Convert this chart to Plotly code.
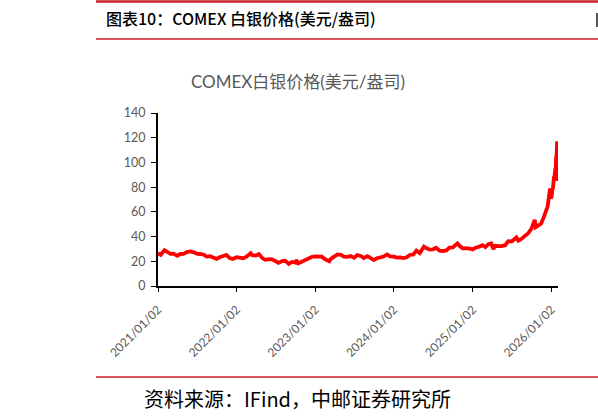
import plotly.graph_objects as go

# COMEX silver price (semi-monthly, daily at the end)
dates = [
    "2021-01-02", "2021-01-15", "2021-02-01", "2021-02-15", "2021-03-01", "2021-03-15",
    "2021-04-01", "2021-04-15", "2021-05-01", "2021-05-15", "2021-06-01", "2021-06-15",
    "2021-07-01", "2021-07-15", "2021-08-01", "2021-08-15", "2021-09-01", "2021-09-15",
    "2021-10-01", "2021-10-15", "2021-11-01", "2021-11-15", "2021-12-01", "2021-12-15",
    "2022-01-01", "2022-01-15", "2022-02-01", "2022-02-15", "2022-03-01", "2022-03-08",
    "2022-03-15", "2022-04-01", "2022-04-15", "2022-05-01", "2022-05-15", "2022-06-01",
    "2022-06-15", "2022-07-01", "2022-07-15", "2022-08-01", "2022-08-15", "2022-09-01",
    "2022-09-15", "2022-10-01", "2022-10-05", "2022-10-15", "2022-11-01", "2022-11-15",
    "2022-12-01", "2022-12-15",
    "2023-01-01", "2023-01-15", "2023-02-01", "2023-02-15", "2023-03-01", "2023-03-08",
    "2023-03-15", "2023-04-01", "2023-04-15", "2023-05-01", "2023-05-15", "2023-06-01",
    "2023-06-15", "2023-07-01", "2023-07-15", "2023-08-01", "2023-08-15", "2023-09-01",
    "2023-09-15", "2023-10-01", "2023-10-15", "2023-11-01", "2023-11-15", "2023-12-01",
    "2023-12-15",
    "2024-01-01", "2024-01-15", "2024-02-01", "2024-02-15", "2024-03-01", "2024-03-15",
    "2024-04-01", "2024-04-12", "2024-04-15", "2024-05-01", "2024-05-20", "2024-06-01",
    "2024-06-15", "2024-07-01", "2024-07-15", "2024-08-01", "2024-08-15", "2024-09-01",
    "2024-09-15", "2024-10-01", "2024-10-22", "2024-11-01", "2024-11-15", "2024-12-01",
    "2024-12-15",
    "2025-01-01", "2025-01-15", "2025-02-01", "2025-02-15", "2025-03-01", "2025-03-15",
    "2025-03-28", "2025-04-07", "2025-04-15", "2025-05-01", "2025-05-15", "2025-06-01",
    "2025-06-15", "2025-07-01", "2025-07-15", "2025-07-23", "2025-08-01", "2025-08-15",
    "2025-09-01", "2025-09-15", "2025-10-01", "2025-10-16", "2025-10-21", "2025-11-01",
    "2025-11-15", "2025-12-01", "2025-12-12", "2025-12-15", "2025-12-26", "2025-12-29",
    "2026-01-02", "2026-01-06", "2026-01-09", "2026-01-13", "2026-01-16", "2026-01-20",
    "2026-01-22", "2026-01-23", "2026-01-26", "2026-01-28", "2026-01-29", "2026-01-30",
]
prices = [
    26.5, 25.3, 29.0, 27.5, 26.0, 26.2,
    24.5, 25.9, 26.0, 27.4, 28.0, 27.5,
    26.1, 25.9, 25.5, 23.8, 24.2, 23.0,
    22.0, 23.3, 24.0, 25.2, 22.6, 21.8,
    23.3, 23.2, 22.5, 23.5, 25.0, 26.5,
    25.0, 24.7, 25.8, 22.6, 21.2, 21.8,
    21.5, 19.7, 18.8, 20.2, 20.4, 17.9,
    19.5, 19.0, 20.9, 18.3, 19.8, 21.6,
    22.7, 23.5,
    24.0, 24.2, 23.7, 21.8, 21.0, 20.0,
    22.0, 24.1, 25.6, 25.2, 23.7, 23.6,
    24.2, 22.8, 25.0, 24.3, 22.6, 24.2,
    23.0, 21.0, 22.5, 22.8, 23.8, 25.5,
    24.0,
    23.8, 23.0, 23.1, 22.6, 23.2, 25.1,
    25.5, 28.5, 28.6, 26.6, 31.9, 30.5,
    29.5, 29.7, 30.9, 28.6, 28.2, 28.8,
    31.0, 31.2, 34.5, 32.5, 30.5, 30.6,
    30.5,
    29.6, 31.0, 31.8, 33.0, 31.5, 33.8,
    34.5, 29.9, 32.5, 32.4, 32.3, 33.0,
    36.3, 36.0, 38.0, 39.3, 36.7, 38.0,
    40.7, 42.5, 46.5, 53.5, 47.5, 48.5,
    50.5, 57.5, 64.0, 64.5, 79.0, 71.0,
    72.0, 78.5, 79.5, 88.0, 89.0, 95.0,
    96.0, 103.0, 107.0, 117.0, 114.0, 85.0,
]

tick_vals = ["2021-01-02", "2022-01-02", "2023-01-02", "2024-01-02", "2025-01-02", "2026-01-02"]
tick_text = ["2021/01/02", "2022/01/02", "2023/01/02", "2024/01/02", "2025/01/02", "2026/01/02"]

header = "图表10：COMEX 白银价格(美元/盎司)"
chart_title = "COMEX白银价格(美元/盎司)"
source = "资料来源：IFind，中邮证券研究所"

fig = go.Figure()
fig.add_trace(go.Scatter(x=dates, y=prices, mode="lines",
                         line=dict(color="#FF0000", width=3.8), showlegend=False))

fig.update_layout(
    width=598, height=418,
    margin=dict(l=158, r=40, t=113, b=132),
    paper_bgcolor="white", plot_bgcolor="white",
    font=dict(family="Lato, Noto Sans CJK SC", color="#595959"),
    title=dict(text=chart_title, x=298 / 598, xref="container", xanchor="center",
               y=1 - 82 / 418, yref="container", yanchor="middle",
               font=dict(size=17, color="#595959", family="Lato, Noto Sans CJK SC")),
)

fig.update_xaxes(
    type="date", range=["2021-01-02", "2026-02-01"],
    tickvals=tick_vals, ticktext=tick_text, tickangle=-45,
    showgrid=False, zeroline=False,
    showline=True, linecolor="black", linewidth=2,
    ticks="outside", ticklen=4, tickcolor="black",
    ticklabelstandoff=6,
    tickfont=dict(size=12, color="#595959"),
)
fig.update_yaxes(
    range=[0, 140], dtick=20,
    showgrid=False, zeroline=False,
    showline=True, linecolor="black", linewidth=2,
    ticks="outside", ticklen=5, tickcolor="black",
    ticklabelstandoff=3,
    tickfont=dict(size=12.5, color="#595959"),
)

# report frame: red rules, header, source line
red = "#D0212B"
fig.add_shape(type="line", xref="paper", yref="paper",
              x0=(96 - 158) / 400, x1=(598 - 158) / 400,
              y0=1 + (113 - 1.5) / 173, y1=1 + (113 - 1.5) / 173,
              line=dict(color=red, width=2.5))
fig.add_shape(type="line", xref="paper", yref="paper",
              x0=(96 - 158) / 400, x1=(598 - 158) / 400,
              y0=1 + (113 - 39) / 173, y1=1 + (113 - 39) / 173,
              line=dict(color=red, width=1.5))
fig.add_shape(type="line", xref="paper", yref="paper",
              x0=(96 - 158) / 400, x1=(598 - 158) / 400,
              y0=-(377 - 286) / 173, y1=-(377 - 286) / 173,
              line=dict(color=red, width=1.5))
fig.add_shape(type="line", xref="paper", yref="paper",
              x0=(597 - 158) / 400, x1=(597 - 158) / 400,
              y0=1 + (113 - 13) / 173, y1=1 + (113 - 27) / 173,
              line=dict(color="#555555", width=2))

fig.add_annotation(text=header, xref="paper", yref="paper",
                   x=(104 - 158) / 400, y=1 + (113 - 18) / 173,
                   xanchor="left", yanchor="middle", showarrow=False,
                   font=dict(size=16, color="black", family="Noto Sans CJK SC", weight=500))
fig.add_annotation(text=source, xref="paper", yref="paper",
                   x=(142 - 158) / 400, y=-(398 - 286) / 173,
                   xanchor="left", yanchor="middle", showarrow=False,
                   font=dict(size=20, color="black", family="Noto Sans CJK SC"))

# page body has a default 8px margin; drop it so the figure sits at the corner
fig.write_html("out.html", config={"displayModeBar": False},
               post_script="document.body.style.margin='0px';")
